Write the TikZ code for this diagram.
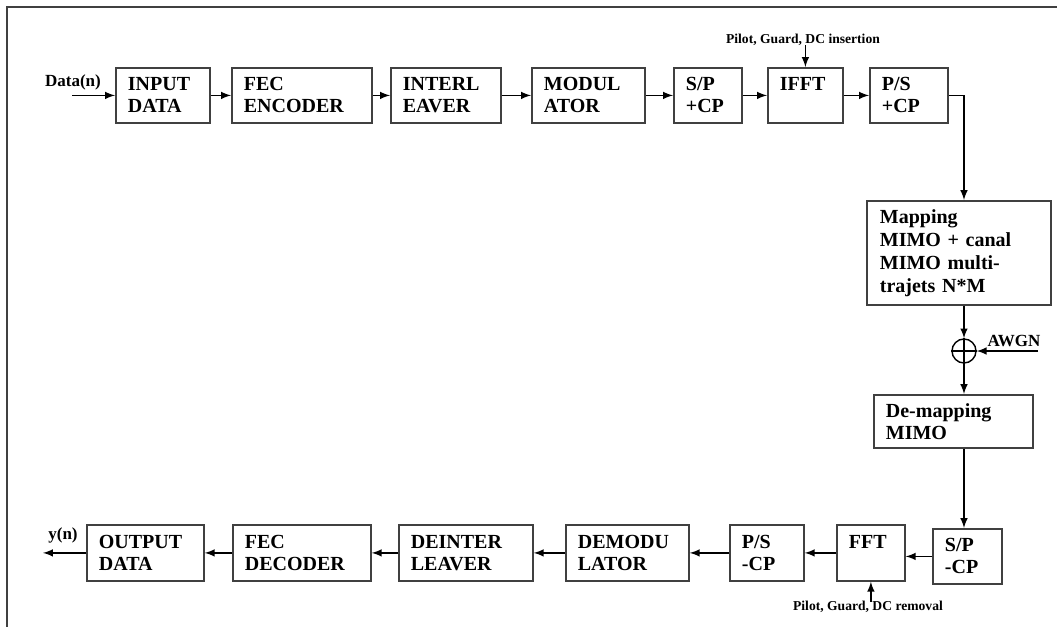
\documentclass[tikz,border=0pt]{standalone}
\usepackage{fontspec}
\setmainfont{Liberation Serif}

\newcommand*{\xpath}{964}
\newcommand*{\ytop}{67}
\newcommand*{\ybot}{524}

\begin{document}
\begin{tikzpicture}
[
	x=0.5pt, y=-0.5pt,
	blk/.style={draw=black!75,line width=0.9pt,anchor=north west,align=left,inner xsep=6pt,inner ysep=0pt,minimum height=27.5pt,font=\bfseries\fontsize{10}{11}\selectfont},
	sig/.style={->,>=latex,line width=0.7pt},
	lbl/.style={font=\bfseries\fontsize{8.5}{9}\selectfont,inner sep=0pt},
	note/.style={font=\bfseries\fontsize{6.8}{7}\selectfont,inner sep=0pt}
]
	\useasboundingbox (0,0) rectangle (1057,627);

	% frame
	\draw[black!75,line width=1pt] (1057,7) -- (7,7) -- (7,627);

	% emitter
	\node[blk,text width=35pt] (in) at (115,\ytop) {INPUT\\DATA};
	\node[blk,text width=58pt] (fec) at (231,\ytop) {FEC\\ENCODER};
	\node[blk,text width=43pt] (il) at (390,\ytop) {INTERL\\EAVER};
	\node[blk,text width=44.5pt] (mod) at (531,\ytop) {MODUL\\ATOR};
	\node[blk,text width=22pt] (sp) at (673,\ytop) {S/P\\+CP};
	\node[blk,text width=25.5pt] (ifft) at (767,\ytop) {IFFT\\\mbox{}};
	\node[blk,text width=27pt] (ps) at (869,\ytop) {P/S\\+CP};

	\node[lbl] (din) at (73,82) {Data(n)};
	\coordinate (dstart) at (72,0);
	\draw[sig] (in.west -| dstart) -- (in.west);
	\draw[sig] (in) -- (fec);
	\draw[sig] (fec) -- (il);
	\draw[sig] (il) -- (mod);
	\draw[sig] (mod) -- (sp);
	\draw[sig] (sp) -- (ifft);
	\draw[sig] (ifft) -- (ps);

	\node[note] (pins) at (803,40) {Pilot, Guard, DC insertion};
	\draw[sig] (pins.south -| ifft.north) ++(0,-1) -- (ifft.north);

	% channel
	\node[blk,text width=79pt,inner xsep=6.5pt,minimum height=52pt,font=\bfseries\fontsize{10}{11.5}\selectfont] (map) at (866,200) {Mapping\\MIMO + canal\\MIMO multi-\\trajets N*M};
	\coordinate (turn) at (\xpath,0);
	\draw[sig] (ps.east) -| (turn |- map.north);

	\node[draw,circle,line width=0.7pt,minimum size=12pt,inner sep=0pt] (sum) at (\xpath,351) {};
	\draw[line width=0.7pt] (sum.west) -- (sum.east);
	\draw[line width=0.7pt] (sum.north) -- (sum.south);
	\draw[sig] (map.south -| sum) -- (sum.north);

	\node[lbl] (awgn) at (1014,341) {AWGN};
	\coordinate (nstart) at (1038,0);
	\draw[sig] (sum.east -| nstart) -- (sum.east);

	\node[blk,text width=67.5pt,minimum height=26.5pt] (dmap) at (873,394) {De-mapping\\MIMO};
	\draw[sig] (sum.south) -- (sum.south |- dmap.north);

	% receiver
	\node[blk,text width=22.5pt,minimum height=27.5pt] (spr) at (932,528) {S/P\\-CP};
	\node[blk,text width=22pt,minimum height=28pt] (fft) at (836,\ybot) {FFT\\\mbox{}};
	\node[blk,text width=25pt,minimum height=28pt] (psr) at (729,\ybot) {P/S\\-CP};
	\node[blk,text width=49.5pt,minimum height=28pt] (demod) at (565,\ybot) {DEMODU\\LATOR};
	\node[blk,text width=55pt,minimum height=28pt] (deil) at (398,\ybot) {DEINTER\\LEAVER};
	\node[blk,text width=57pt,minimum height=28pt] (fecd) at (232,\ybot) {FEC\\DECODER};
	\node[blk,text width=46.5pt,minimum height=28pt] (out) at (86,\ybot) {OUTPUT\\DATA};

	\draw[sig] (dmap.south -| sum) -- (sum |- spr.north);
	\draw[sig] (spr.west) -- (spr.west -| fft.east);
	\draw[sig] (fft) -- (psr);
	\draw[sig] (psr) -- (demod);
	\draw[sig] (demod) -- (deil);
	\draw[sig] (deil) -- (fecd);
	\draw[sig] (fecd) -- (out);

	\node[lbl] (yout) at (63,535) {y(n)};
	\coordinate (yend) at (43,0);
	\draw[sig] (out.west) -- (out.west -| yend);

	\node[note] (prem) at (868,607) {Pilot, Guard, DC removal};
	\draw[sig] (prem.north -| fft.south) ++(0,1) -- (fft.south);

\end{tikzpicture}
\end{document}
